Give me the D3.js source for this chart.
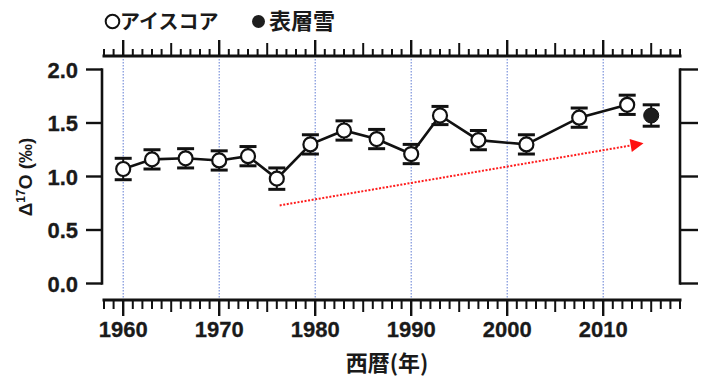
<!DOCTYPE html>
<html>
<head>
<meta charset="utf-8">
<script src="https://cdn.jsdelivr.net/npm/d3@7"></script>
<style>
  html, body { margin: 0; padding: 0; background: #fff; }
  svg { display: block; }
</style>
</head>
<body>
<svg id="chart" width="710" height="382"></svg>
<script>
// ---- data ----
const iceYears  = [1960, 1963, 1966.5, 1970, 1973, 1976, 1979.5, 1983, 1986.4, 1990, 1993, 1997, 2002, 2007.5, 2012.5];
const iceValues = [1.07, 1.16, 1.17, 1.15, 1.19, 0.98, 1.30, 1.43, 1.35, 1.21, 1.57, 1.34, 1.30, 1.55, 1.67];
const iceErrors = [0.10, 0.09, 0.09, 0.09, 0.09, 0.10, 0.09, 0.09, 0.09, 0.09, 0.085, 0.09, 0.09, 0.09, 0.09];
const snowYears  = [2015];
const snowValues = [1.57];
const snowErrors = [0.10];
const trendYears  = [1976.3, 2014.2];
const trendValues = [0.73, 1.31];
const yTicks = [0, 0.5, 1.0, 1.5, 2.0];
const xMajorTicks = [1960, 1970, 1980, 1990, 2000, 2010];
const legendLabels = ["アイスコア", "表層雪"];
const xTitle = "西暦(年)";

// ---- layout ----
const svg = d3.select("#chart");
const x = d3.scaleLinear().domain([1958, 2018]).range([104, 680]);
const y = d3.scaleLinear().domain([0, 2]).range([283.5, 69.5]);
const topY = 56, bottomY = 300;
const numFont = "'Liberation Sans', Arial, Helvetica, sans-serif";
const cjkFont = "'Noto Sans CJK JP', 'Noto Sans', sans-serif";

// gridlines
svg.append("g").selectAll("line").data(xMajorTicks).join("line")
  .attr("x1", d => x(d)).attr("x2", d => x(d))
  .attr("y1", topY + 3).attr("y2", bottomY)
  .attr("stroke", "#6f88d8").attr("stroke-width", 1.1)
  .attr("stroke-dasharray", "1.5,1.5");

// year ticks (every year)
const allYears = d3.range(1958, 2019);
function tickLen(yr) { return yr % 10 === 0 ? 16 : (yr % 5 === 0 ? 12 : 9); }
function topLen(yr) { return yr % 10 === 0 ? 16 : (yr % 5 === 0 ? 13 : 7); }

const bottomAxis = svg.append("g");
bottomAxis.append("line").attr("x1", x(1958) - 1.5).attr("x2", x(2018) + 1.5)
  .attr("y1", bottomY).attr("y2", bottomY).attr("stroke", "#111").attr("stroke-width", 3);
bottomAxis.selectAll("line.t").data(allYears).join("line").attr("class", "t")
  .attr("x1", d => x(d)).attr("x2", d => x(d))
  .attr("y1", bottomY).attr("y2", d => bottomY + tickLen(d))
  .attr("stroke", "#111").attr("stroke-width", d => d % 10 === 0 ? 2.4 : 2);
bottomAxis.selectAll("text").data(xMajorTicks).join("text")
  .attr("x", d => x(d)).attr("y", 337)
  .attr("text-anchor", "middle")
  .attr("font-family", numFont).attr("font-weight", "bold").attr("font-size", 22)
  .attr("fill", "#1a1a1a").attr("stroke", "#1a1a1a").attr("stroke-width", 0.3)
  .text(d => d);

const topAxis = svg.append("g");
topAxis.append("line").attr("x1", x(1958) - 1.5).attr("x2", x(2018) + 1.5)
  .attr("y1", topY).attr("y2", topY).attr("stroke", "#111").attr("stroke-width", 3);
topAxis.selectAll("line.t").data(allYears).join("line").attr("class", "t")
  .attr("x1", d => x(d)).attr("x2", d => x(d))
  .attr("y1", topY).attr("y2", d => topY - topLen(d))
  .attr("stroke", "#111").attr("stroke-width", d => d % 10 === 0 ? 2.4 : 2);

// left axis
const leftX = 102;
const leftAxis = svg.append("g");
leftAxis.append("line").attr("x1", leftX).attr("x2", leftX)
  .attr("y1", y(2) - 1.2).attr("y2", y(0) + 1.2).attr("stroke", "#111").attr("stroke-width", 2.6);
leftAxis.selectAll("line.t").data(yTicks).join("line").attr("class", "t")
  .attr("x1", leftX - 16).attr("x2", leftX)
  .attr("y1", d => y(d)).attr("y2", d => y(d))
  .attr("stroke", "#111").attr("stroke-width", 2.4);
leftAxis.selectAll("text").data(yTicks).join("text")
  .attr("x", 78).attr("y", d => y(d) + 8)
  .attr("text-anchor", "end")
  .attr("font-family", numFont).attr("font-weight", "bold").attr("font-size", 22)
  .attr("fill", "#1a1a1a").attr("stroke", "#1a1a1a").attr("stroke-width", 0.3)
  .text(d => d3.format(".1f")(d));

// right axis
const rightX = 680;
const rightAxis = svg.append("g");
rightAxis.append("line").attr("x1", rightX).attr("x2", rightX)
  .attr("y1", y(2) - 1.2).attr("y2", y(0) + 1.2).attr("stroke", "#111").attr("stroke-width", 2.6);
rightAxis.selectAll("line.t").data(yTicks).join("line").attr("class", "t")
  .attr("x1", rightX).attr("x2", rightX + 18)
  .attr("y1", d => y(d)).attr("y2", d => y(d))
  .attr("stroke", "#111").attr("stroke-width", 2.4);

// y title
const yt = svg.append("text")
  .attr("transform", "translate(32,177) rotate(-90)")
  .attr("text-anchor", "middle")
  .attr("font-family", numFont).attr("font-weight", "bold").attr("font-size", 19)
  .attr("fill", "#1a1a1a");
yt.append("tspan").text("Δ");
yt.append("tspan").attr("font-size", 12).attr("dy", -7).text("17");
yt.append("tspan").attr("dy", 7).text("O (‰)");

// x title
svg.append("text").attr("x", 387).attr("y", 371)
  .attr("text-anchor", "middle")
  .attr("font-family", cjkFont).attr("font-weight", "bold").attr("font-size", 22)
  .attr("fill", "#1a1a1a").text(xTitle);

// trend arrow
const tA = [x(trendYears[0]), y(trendValues[0])];
const tB = [x(trendYears[1]), y(trendValues[1])];
const ang = Math.atan2(tB[1] - tA[1], tB[0] - tA[0]);
const headLen = 13, headHalf = 6.5;
const base = [tB[0] - headLen * Math.cos(ang), tB[1] - headLen * Math.sin(ang)];
svg.append("line")
  .attr("x1", tA[0]).attr("y1", tA[1]).attr("x2", base[0]).attr("y2", base[1])
  .attr("stroke", "#ff1a1a").attr("stroke-width", 2).attr("stroke-dasharray", "2,1.6");
svg.append("path")
  .attr("d", `M${tB[0]},${tB[1]} L${base[0] - headHalf * Math.sin(ang)},${base[1] + headHalf * Math.cos(ang)} L${base[0] + headHalf * Math.sin(ang)},${base[1] - headHalf * Math.cos(ang)} Z`)
  .attr("fill", "#ff1010");

// series
const ice = iceYears.map((yr, i) => ({ yr, v: iceValues[i], e: iceErrors[i] }));
const snow = snowYears.map((yr, i) => ({ yr, v: snowValues[i], e: snowErrors[i] }));

svg.append("path").datum(ice)
  .attr("d", d3.line().x(d => x(d.yr)).y(d => y(d.v)))
  .attr("fill", "none").attr("stroke", "#111").attr("stroke-width", 2.6);

function errorBars(data) {
  const g = svg.append("g").attr("stroke", "#111");
  g.selectAll("line.v").data(data).join("line").attr("class", "v")
    .attr("x1", d => x(d.yr)).attr("x2", d => x(d.yr))
    .attr("y1", d => y(d.v + d.e)).attr("y2", d => y(d.v - d.e))
    .attr("stroke-width", 2);
  g.selectAll("line.cu").data(data).join("line").attr("class", "cu")
    .attr("x1", d => x(d.yr) - 8.5).attr("x2", d => x(d.yr) + 8.5)
    .attr("y1", d => y(d.v + d.e)).attr("y2", d => y(d.v + d.e))
    .attr("stroke-width", 3);
  g.selectAll("line.cl").data(data).join("line").attr("class", "cl")
    .attr("x1", d => x(d.yr) - 8.5).attr("x2", d => x(d.yr) + 8.5)
    .attr("y1", d => y(d.v - d.e)).attr("y2", d => y(d.v - d.e))
    .attr("stroke-width", 3);
}
errorBars(ice);
errorBars(snow);

svg.append("g").selectAll("circle").data(ice).join("circle")
  .attr("cx", d => x(d.yr)).attr("cy", d => y(d.v)).attr("r", 7)
  .attr("fill", "#fff").attr("stroke", "#111").attr("stroke-width", 2.2);
svg.append("g").selectAll("circle").data(snow).join("circle")
  .attr("cx", d => x(d.yr)).attr("cy", d => y(d.v)).attr("r", 7.5)
  .attr("fill", "#1e1e1e").attr("stroke", "#111").attr("stroke-width", 1);

// legend
const lg = svg.append("g");
lg.append("circle").attr("cx", 112.5).attr("cy", 21.5).attr("r", 6.8)
  .attr("fill", "#fff").attr("stroke", "#111").attr("stroke-width", 2);
lg.append("text").attr("x", 120).attr("y", 28.5)
  .attr("font-family", cjkFont).attr("font-weight", "bold").attr("font-size", 20)
  .attr("fill", "#1a1a1a").text(legendLabels[0]);
lg.append("circle").attr("cx", 258.5).attr("cy", 21.5).attr("r", 6.5)
  .attr("fill", "#1e1e1e");
lg.append("text").attr("x", 269).attr("y", 29)
  .attr("font-family", cjkFont).attr("font-weight", "bold").attr("font-size", 22)
  .attr("fill", "#1a1a1a").text(legendLabels[1]);
</script>
</body>
</html>
